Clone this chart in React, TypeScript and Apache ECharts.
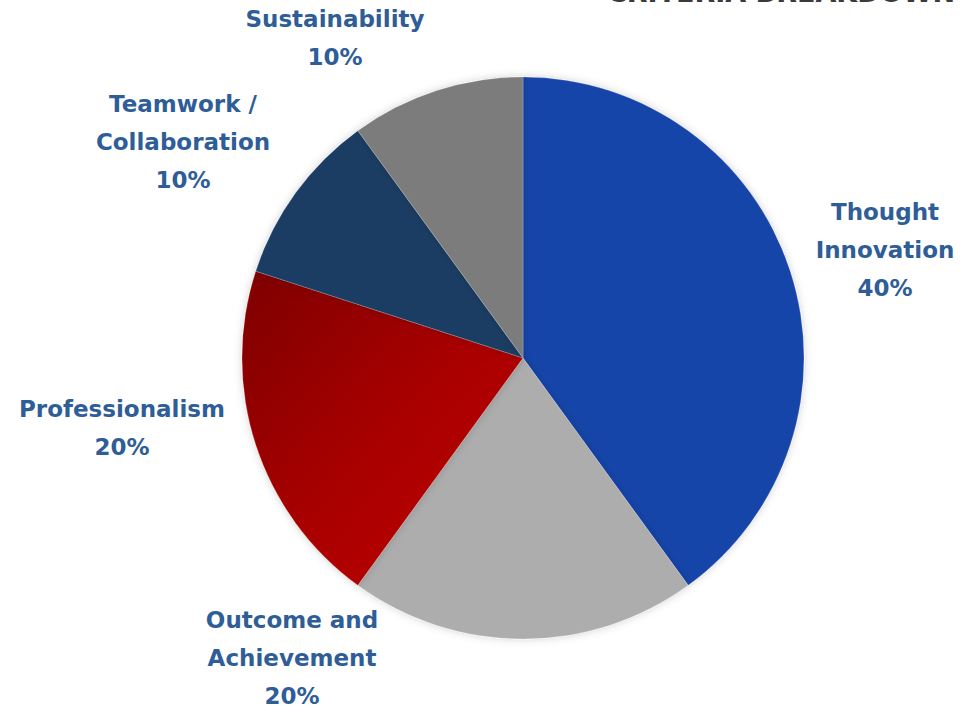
import React, { useEffect, useRef } from "react";
import * as echarts from "echarts";

const categories = [
  "Thought\nInnovation",
  "Outcome and\nAchievement",
  "Professionalism",
  "Teamwork /\nCollaboration",
  "Sustainability",
];
const values = [40, 20, 20, 10, 10];
const title = "CRITERIA BREAKDOWN";

const sliceColors: any[] = [
  "#1944a9",
  "#adadad",
  {
    type: "linear",
    x: 0,
    y: 0,
    x2: 1,
    y2: 1,
    colorStops: [
      { offset: 0, color: "#7e0000" },
      { offset: 0.5, color: "#a80000" },
      { offset: 1, color: "#c00000" },
    ],
  },
  "#1b3d63",
  "#7c7c7c",
];

// label centres (layout only)
const labelCentres: [number, number][] = [
  [885, 250],
  [292, 658],
  [122, 428],
  [183, 142],
  [335, 38],
];

export default function App() {
  const ref = useRef<HTMLDivElement>(null);
  useEffect(() => {
    if (!ref.current) return;
    const chart = echarts.init(ref.current, null, { renderer: "svg" });
    chart.setOption({
      animation: false,
      backgroundColor: "#ffffff",
      graphic: [
        {
          type: "text",
          right: 10,
          top: -21,
          style: {
            text: title,
            fontFamily: "DejaVu Sans",
            fontWeight: "bold",
            fontSize: 27,
            fill: "#3a3a3a",
          },
        },
      ],
      series: [
        {
          type: "pie",
          center: [523, 358],
          radius: 281,
          startAngle: 90,
          clockwise: true,
          data: categories.map((name, i) => ({
            name,
            value: values[i],
            itemStyle: { color: sliceColors[i] },
          })),
          itemStyle: {
            borderColor: "rgba(255,255,255,0.35)",
            borderWidth: 0.5,
            shadowBlur: 8,
            shadowColor: "rgba(0,0,0,0.18)",
          },
          label: {
            show: true,
            position: "outside",
            formatter: (p: any) => `${p.name}\n${p.value}%`,
            fontFamily: "DejaVu Sans",
            fontWeight: "bold",
            fontSize: 23,
            lineHeight: 38,
            color: "#2e5d97",
            align: "center",
            overflow: "none",
          },
          labelLine: { show: false },
          labelLayout: (params: any) => {
            const c = labelCentres[params.dataIndex];
            return {
              x: c[0],
              y: c[1],
              align: "center",
              verticalAlign: "middle",
            };
          },
        },
      ],
    });
    return () => chart.dispose();
  }, []);
  return (
    <div
      ref={ref}
      style={{ position: "fixed", left: 0, top: 0, width: 965, height: 708 }}
    />
  );
}
